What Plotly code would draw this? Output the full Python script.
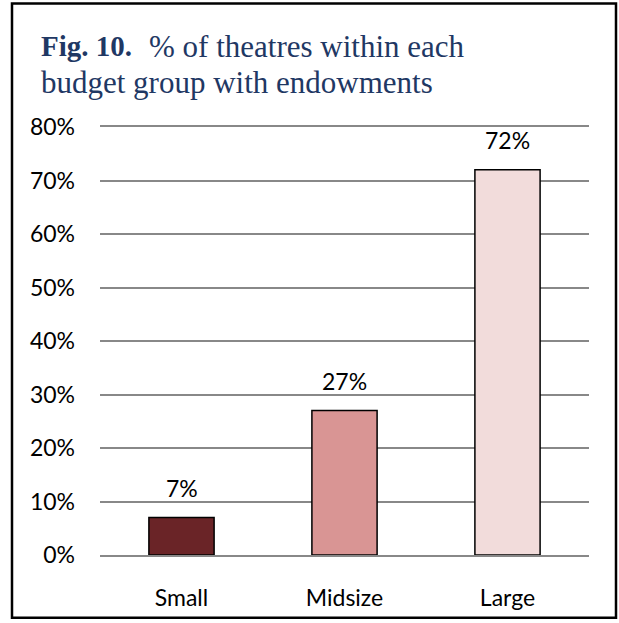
import plotly.graph_objects as go

categories = ["Small", "Midsize", "Large"]
values = [7, 27, 72]
bar_colors = ["#6A2427", "#D99594", "#F2DCDB"]
tick_vals = [0, 10, 20, 30, 40, 50, 60, 70, 80]
tick_text = [f"{v}%" for v in tick_vals]
label_text = [f"{v}%" for v in values]

W, H = 619, 623
L, R, T, B = 100, 30, 127, 66
pw, ph = W - L - R, H - T - B
GRID = "#888888"
TITLE_BLUE = "#1F3864"
FONT = "Lato, sans-serif"


def px(x):
    return (x - L) / pw


def py(y):
    return (H - B - y) / ph


fig = go.Figure(
    go.Bar(
        x=categories,
        y=values,
        marker=dict(color=bar_colors, line=dict(color="black", width=1.5)),
        width=0.4,
    )
)

# value labels above each bar
annotations = [
    dict(
        x=c,
        y=v,
        xref="x",
        yref="y",
        text=t,
        showarrow=False,
        yanchor="bottom",
        yshift=14,
        font=dict(family=FONT, size=23, color="black"),
    )
    for c, v, t in zip(categories, values, label_text)
]

# two-line title
title_font = dict(family="Liberation Serif, serif", size=31, color=TITLE_BLUE)
annotations += [
    dict(xref="paper", yref="paper", x=px(39), y=py(46), xanchor="left",
         yanchor="middle", showarrow=False, text="<b>Fig. 10.</b>",
         font=dict(family="Liberation Serif, serif", size=29, color=TITLE_BLUE)),
    dict(xref="paper", yref="paper", x=px(147), y=py(46), xanchor="left",
         yanchor="middle", showarrow=False, text="% of theatres within each",
         font=title_font),
    dict(xref="paper", yref="paper", x=px(39), y=py(82), xanchor="left",
         yanchor="middle", showarrow=False, text="budget group with endowments",
         font=title_font),
]

fig.update_layout(
    width=W,
    height=H,
    margin=dict(l=L, r=R, t=T, b=B),
    paper_bgcolor="white",
    plot_bgcolor="white",
    showlegend=False,
    xaxis=dict(
        showline=True,
        mirror=True,
        linecolor=GRID,
        linewidth=1.5,
        showgrid=False,
        ticks="",
        ticklabelstandoff=22,
        tickfont=dict(family=FONT, size=23, color="black"),
    ),
    yaxis=dict(
        range=[0, 80],
        tickvals=tick_vals,
        ticktext=tick_text,
        showgrid=True,
        gridcolor=GRID,
        gridwidth=1.5,
        zeroline=False,
        ticks="",
        ticklabelstandoff=24,
        tickfont=dict(family=FONT, size=23, color="black"),
    ),
    shapes=[
        dict(
            type="rect",
            xref="paper",
            yref="paper",
            x0=px(12),
            x1=px(616),
            y0=py(620),
            y1=py(3),
            line=dict(color="black", width=2.5),
        )
    ],
    annotations=annotations,
)

fig.write_html("out.html")
